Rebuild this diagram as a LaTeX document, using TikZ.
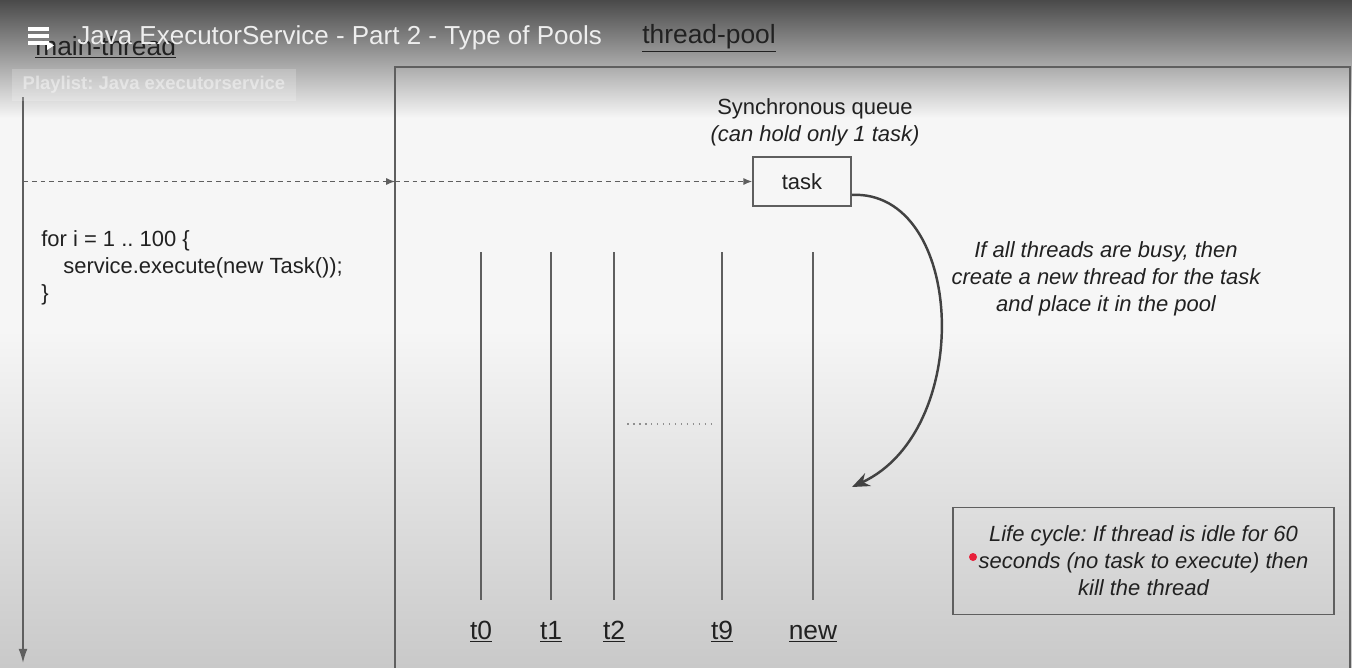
\documentclass[tikz,border=0pt]{standalone}
\usepackage{fontspec}
\setmainfont{Liberation Sans}
\usepackage{xcolor}
\usetikzlibrary{positioning, arrows.meta}
\frenchspacing
\definecolor{ink}{HTML}{212121}
\definecolor{wire}{HTML}{5F5F5F}
\definecolor{bgtop}{HTML}{4A4A4A}
\definecolor{bgmid}{HTML}{F6F6F6}
\definecolor{bgbot}{HTML}{C9C9C9}
\definecolor{overlay}{HTML}{EEEEEE}
\definecolor{pointer}{HTML}{E8203A}

\tikzset{
  body/.style={text=ink, font=\fontsize{12.5}{15.3}\selectfont},
  note/.style={text=ink, font=\fontsize{12.5}{15.3}\selectfont\itshape, align=center},
  heading/.style={text=ink, font=\fontsize{15}{18}\selectfont, inner sep=0pt},
  lane/.style={wire, line width=0.8pt},
  handoff/.style={wire, line width=0.7pt, dash pattern=on 2.8pt off 2.2pt,
                  -{Latex[length=5pt, width=4pt]}},
}

\begin{document}
\begin{tikzpicture}[x=0.02cm, y=-0.02cm]
    \useasboundingbox (0,0) rectangle (1352,667);
    % background
    \shade[top color=bgtop, bottom color=bgmid] (0,0) rectangle (1352,118);
    \fill[bgmid] (0,118) rectangle (1352,330);
    \shade[top color=bgmid, bottom color=bgbot] (0,330) rectangle (1352,667);

    % main thread
    \node[heading, anchor=base west] (mainlbl) at (35,55) {\underline{main-thread}};
    \coordinate (mt-top) at (23,97);
    \coordinate (mt-bot) at (23,663);
    \draw[lane, -{Latex[length=8pt, width=5pt]}] (mt-top) -- (mt-bot);
    \node[body, anchor=base west, align=left, inner sep=0pt] (loop) at (41,300)
      {for i = 1 .. 100 \{\\\hspace*{1em}service.execute(new Task());\\\}};

    % thread pool
    \draw[wire, line width=0.9pt] (395,670) |- (1350,67) -- (1350,670);
    \node[heading, anchor=base west] (poollbl) at (642,43) {\underline{thread-pool}};
    \node[body, anchor=base, align=center] (queuelbl) at (815,141)
      {Synchronous queue\\\textit{(can hold only 1 task)}};
    \node[body, draw=wire, line width=0.9pt, minimum width=1.96cm,
          minimum height=0.98cm] (task) at (802,181.5) {task};

    \coordinate (mt-tap) at (mt-top |- task);
    \coordinate (pool-gate) at (395,181.5);
    \draw[handoff] (mt-tap) -- (pool-gate);
    \draw[handoff] (pool-gate) -- (task.west);

    % worker threads
    \foreach \x/\name/\lbl in {481/t0/t0, 551/t1/t1, 614/t2/t2, 722/t9/t9, 813/tnew/new} {
      \coordinate (\name-top) at (\x,252);
      \coordinate (\name-bot) at (\x,600);
      \draw[lane] (\name-top) -- (\name-bot);
      \node[heading, anchor=base] (\name-lbl) at (\x,639) {\underline{\lbl}};
    }
    \coordinate (gap-l) at (627,424);
    \coordinate (gap-r) at (713,424);
    \draw[wire!70, line width=0.8pt, dash pattern=on 0.9pt off 2.5pt] (gap-l) -- (gap-r);

    % spawn a new thread
    \coordinate (spawn-end) at (852,487);
    \draw[ink!85, line width=1.4pt, -{Stealth[length=10pt, width=8pt]}]
      (task.-15) .. controls (965,190) and (975,430) .. (spawn-end);
    \node[note, anchor=base] (spawnnote) at (1106,311)
      {If all threads are busy, then\\create a new thread for the task\\and place it in the pool};

    \node[note, draw=wire, line width=0.9pt, minimum width=7.62cm,
          minimum height=2.14cm] (lifecycle) at (1143.5,561)
      {Life cycle: If thread is idle for 60\\seconds (no task to execute) then\\kill the thread};
    \coordinate (pointer) at (973,557);
    \fill[pointer] (pointer) circle (4);

    % video overlay
    \fill[white] (28,27) rectangle (49,31);
    \fill[white] (28,34) rectangle (49,38);
    \fill[white] (28,41) rectangle (49,45);
    \fill[white] (47,41) -- (54,45.5) -- (47,50) -- cycle;
    \node[font=\fontsize{14.8}{18}\selectfont, text=overlay, inner sep=0pt,
          anchor=base west] (videotitle) at (77,44) {Java ExecutorService - Part 2 - Type of Pools};
    \node[fill=white, fill opacity=0.2, text=white, text opacity=0.45,
          font=\fontsize{10.5}{12}\selectfont\bfseries, minimum width=5.68cm,
          minimum height=0.64cm] (playlist) at (154,85) {Playlist: Java executorservice};
\end{tikzpicture}
\end{document}
